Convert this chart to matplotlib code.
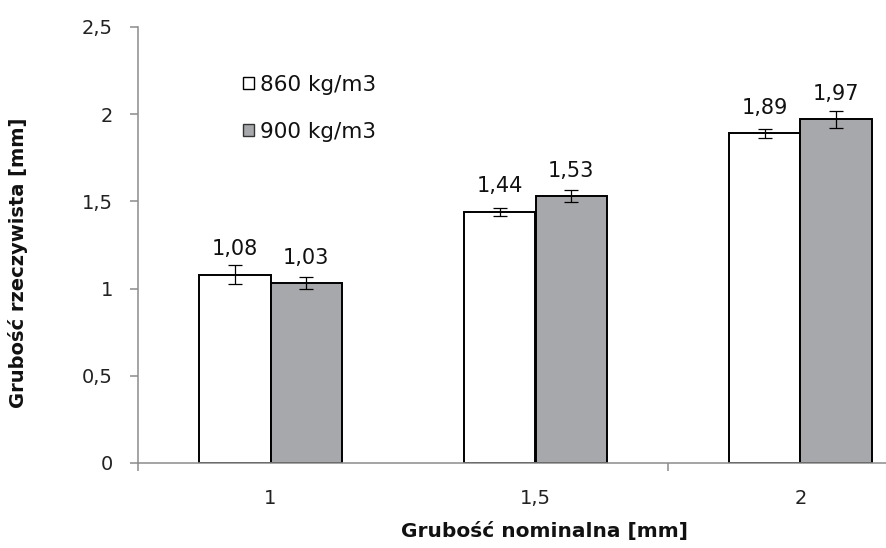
import matplotlib
matplotlib.use("Agg")
import matplotlib.pyplot as plt
import numpy as np
from matplotlib.patches import Patch
from matplotlib.ticker import FuncFormatter, FixedLocator

plt.rcParams['font.family'] = ['DejaVu Sans']

# ---- data ----
categories = ["1", "1,5", "2"]
series_names = ["860 kg/m3", "900 kg/m3"]
vals_860 = [1.08, 1.44, 1.89]
vals_900 = [1.03, 1.53, 1.97]
err_860 = [0.055, 0.022, 0.028]
err_900 = [0.035, 0.035, 0.048]
labels_860 = ["1,08", "1,44", "1,89"]
labels_900 = ["1,03", "1,53", "1,97"]
yticks = [0, 0.5, 1, 1.5, 2, 2.5]

W, H = 887, 548
fig = plt.figure(figsize=(W / 100, H / 100), dpi=100)
ax_left, ax_right, ax_top, ax_bot = 138, 887, 27, 463
ax = fig.add_axes([ax_left / W, (H - ax_bot) / H, (ax_right - ax_left) / W, (ax_bot - ax_top) / H])

spacing = 265.0
x = np.arange(len(categories))
bw = 0.27
gray = "#a7a8ab"

ax.bar(x - bw / 2, vals_860, bw, color="white", edgecolor="black", linewidth=1.4, zorder=2)
ax.bar(x + bw / 2, vals_900, bw, color=gray, edgecolor="black", linewidth=1.4, zorder=2)
ax.errorbar(x - bw / 2, vals_860, yerr=err_860, fmt="none", ecolor="black",
            elinewidth=0.9, capsize=5, capthick=0.9, zorder=3)
ax.errorbar(x + bw / 2, vals_900, yerr=err_900, fmt="none", ecolor="black",
            elinewidth=0.9, capsize=5, capthick=0.9, zorder=3)

for xi, v, t in zip(x - bw / 2, vals_860, labels_860):
    ax.annotate(t, (xi, v), xytext=(0, 14), textcoords="offset points",
                ha="center", va="baseline", fontsize=15, color="#111111")
for xi, v, t in zip(x + bw / 2, vals_900, labels_900):
    ax.annotate(t, (xi, v), xytext=(0, 14), textcoords="offset points",
                ha="center", va="baseline", fontsize=15, color="#111111")

ax.set_ylim(0, 2.5)
ax.set_xlim(-0.5, -0.5 + (ax_right - ax_left) / spacing)
ax.set_yticks(yticks)
ax.yaxis.set_major_formatter(FuncFormatter(lambda v, p: ("%g" % v).replace(".", ",")))
ax.set_xticks(x)
ax.set_xticklabels(categories)
ax.xaxis.set_minor_locator(FixedLocator([-0.5, 1.5]))

for s in ["top", "right"]:
    ax.spines[s].set_visible(False)
for s in ["left", "bottom"]:
    ax.spines[s].set_color("#8c8c8c")
    ax.spines[s].set_linewidth(1.1)

ax.tick_params(axis="y", which="major", length=6, width=1.1, color="#8c8c8c",
               labelsize=14, labelcolor="#222222", pad=12)
ax.tick_params(axis="x", which="major", length=0, labelsize=14,
               labelcolor="#222222", pad=19)
ax.tick_params(axis="x", which="minor", length=6, width=1.1, color="#8c8c8c")

# legend
handles = [Patch(facecolor="white", edgecolor="black", linewidth=1.0),
           Patch(facecolor=gray, edgecolor="#333333", linewidth=1.0)]
leg = ax.legend(handles, series_names, loc="upper left",
                bbox_to_anchor=(243 / W, 1 - 75 / H), bbox_transform=fig.transFigure,
                frameon=False, fontsize=15.5, handlelength=0.5, handleheight=0.5,
                handletextpad=0.3, labelspacing=1.25, borderpad=0, borderaxespad=0)
for t in leg.get_texts():
    t.set_color("#111111")

fig.text(18 / W, 1 - 263 / H, "Grubość rzeczywista [mm]", rotation=90, ha="center",
         va="center", fontsize=14, fontweight="bold", color="#111111")
fig.text(545 / W, 1 - 532 / H, "Grubość nominalna [mm]", ha="center", va="center",
         fontsize=14.5, fontweight="bold", color="#111111")

fig.savefig("out.png", dpi=100)
